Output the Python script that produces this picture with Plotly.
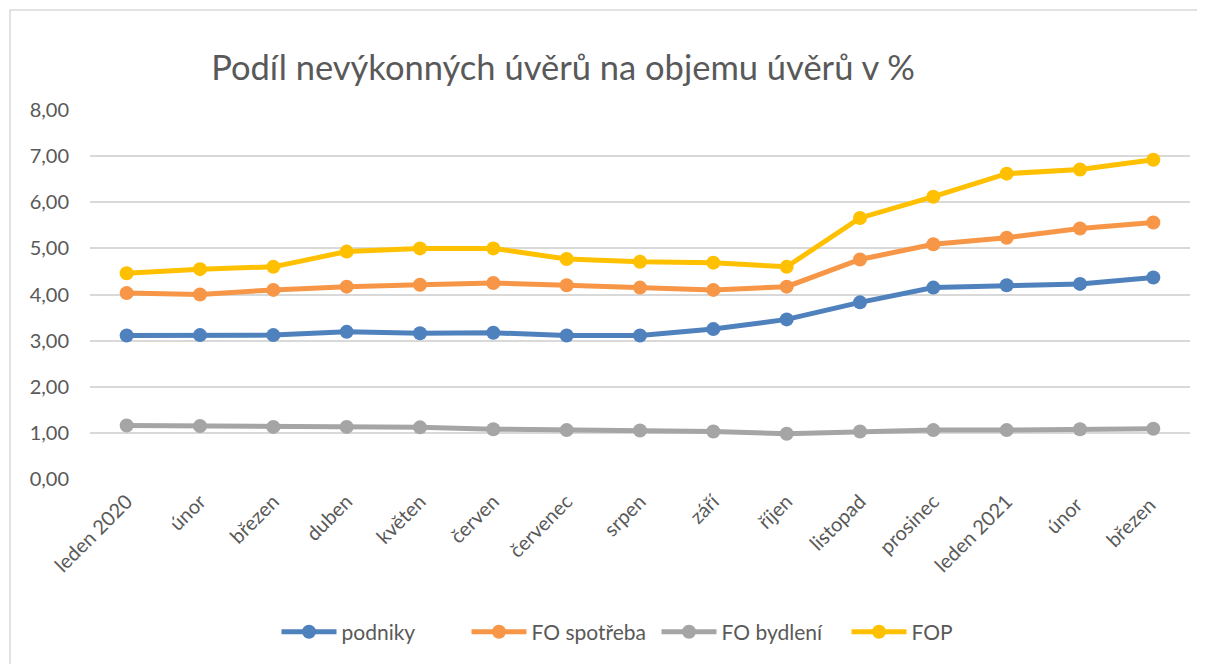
import plotly.graph_objects as go

# months (x categories)
mesice = ["leden 2020", "únor", "březen", "duben", "květen", "červen", "červenec",
          "srpen", "září", "říjen", "listopad", "prosinec", "leden 2021", "únor ", "březen "]

podniky = [3.11, 3.12, 3.12, 3.19, 3.16, 3.17, 3.11, 3.11, 3.25, 3.46, 3.83, 4.15, 4.20, 4.23, 4.37]
fo_spotreba = [4.03, 4.00, 4.10, 4.17, 4.21, 4.25, 4.20, 4.15, 4.10, 4.17, 4.76, 5.09, 5.23, 5.43, 5.56]
fo_bydleni = [1.16, 1.15, 1.13, 1.13, 1.12, 1.08, 1.06, 1.05, 1.03, 0.98, 1.03, 1.06, 1.06, 1.08, 1.09]
fop = [4.46, 4.55, 4.60, 4.93, 5.00, 5.00, 4.77, 4.71, 4.69, 4.60, 5.66, 6.12, 6.62, 6.71, 6.92]

nazvy = ["podniky", "FO spotřeba", "FO bydlení", "FOP"]
barvy = ["#4F81BD", "#F79646", "#A5A5A5", "#FFC000"]

fig = go.Figure()
for nazev, hodnoty, barva in zip(nazvy, [podniky, fo_spotreba, fo_bydleni, fop], barvy):
    fig.add_trace(go.Scatter(
        x=mesice, y=hodnoty, name=nazev, mode="lines+markers",
        line=dict(color=barva, width=5),
        marker=dict(color=barva, size=14),
    ))

fig.update_layout(
    width=1205, height=664,
    paper_bgcolor="white", plot_bgcolor="white",
    separators=", ",
    font=dict(family="Lato, Open Sans, sans-serif", color="#595959", size=20),
    title=dict(text="Podíl nevýkonných úvěrů na objemu úvěrů v %",
               x=0.43, xref="paper", xanchor="center", y=0.91, yanchor="middle",
               font=dict(size=34.5, color="#595959")),
    margin=dict(l=82, r=23, t=102, b=193),
    showlegend=True,
    legend=dict(orientation="h", x=0.515, xanchor="center", y=-0.415, yanchor="middle",
                font=dict(size=21, color="#595959"), itemwidth=55,
                entrywidth=120, traceorder="normal"),
)

fig.update_xaxes(range=[-0.5, len(mesice) - 0.5], tickangle=-45, showgrid=False, showline=False,
                 ticks="", ticklabelstandoff=6, tickfont=dict(size=20, color="#595959"))
fig.update_yaxes(range=[0, 8], dtick=1, tickformat=".2f",
                 showgrid=True, gridcolor="#D9D9D9", gridwidth=1.5, zeroline=False,
                 ticks="", ticklabelstandoff=20, tickfont=dict(size=20, color="#595959"))

# chart frame
fig.add_shape(type="rect", xref="paper", yref="paper",
              x0=-0.0727, x1=1.009, y0=-0.52, y1=1.271,
              line=dict(color="#D9D9D9", width=1.5), fillcolor="rgba(0,0,0,0)")

fig.write_html("out.html")
